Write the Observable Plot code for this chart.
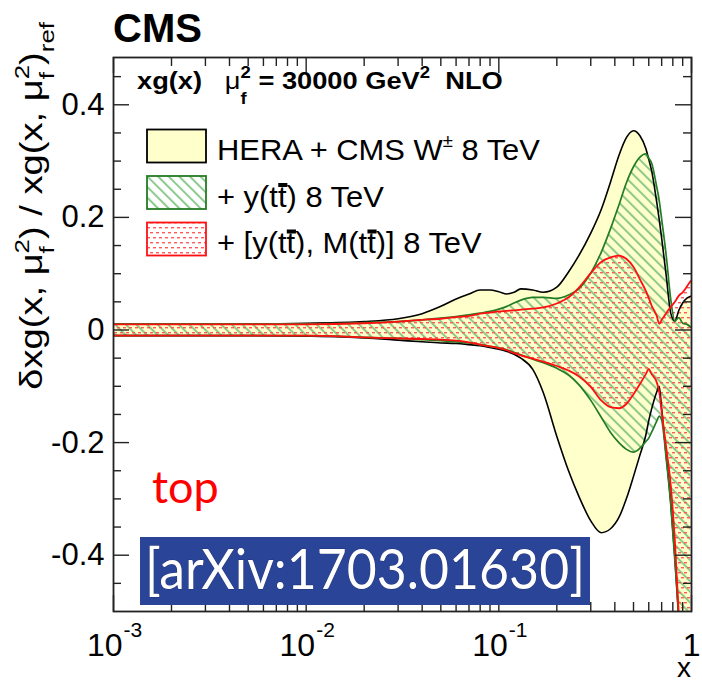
<!DOCTYPE html>
<html>
<head>
<meta charset="utf-8">
<script src="https://cdn.jsdelivr.net/npm/d3@7"></script>
<script src="https://cdn.jsdelivr.net/npm/@observablehq/plot@0.6"></script>
<style>
  html, body { margin: 0; padding: 0; background: #fff; }
  #chart svg { display: block; }
</style>
</head>
<body>
<div id="chart"></div>
<script>
// ---------------- data ----------------
const xGrid    = [0.001,0.002,0.005,0.01,0.02,0.03,0.04,0.05,0.06,0.07,0.08,0.09,0.1,0.11,0.12,0.13,0.15,0.17,0.2,0.23,0.26,0.3,0.34,0.38,0.42,0.46,0.5,0.54,0.58,0.6,0.62,0.66,0.68,0.7,0.74,0.78,0.82,0.86,0.9,0.95,0.99];
// HERA + CMS W 8 TeV (yellow band, black lines)
const yellowHi = [0.011,0.011,0.011,0.012,0.015,0.020,0.029,0.042,0.055,0.064,0.071,0.071,0.068,0.064,0.067,0.073,0.071,0.067,0.076,0.103,0.132,0.172,0.214,0.263,0.310,0.342,0.354,0.345,0.322,0.303,0.284,0.227,0.196,0.163,0.095,0.030,0.016,0.035,0.048,0.057,0.060];
const yellowLo = [-0.010,-0.010,-0.010,-0.011,-0.014,-0.018,-0.021,-0.023,-0.024,-0.026,-0.028,-0.031,-0.034,-0.038,-0.043,-0.050,-0.070,-0.111,-0.189,-0.250,-0.295,-0.339,-0.360,-0.353,-0.333,-0.299,-0.260,-0.222,-0.186,-0.161,-0.141,-0.110,-0.100,-0.140,-0.225,-0.305,-0.405,-0.515,-0.650,-0.800,-0.950];
// + y(tt) 8 TeV (green hatched band)
const greenHi  = [0.011,0.011,0.011,0.011,0.013,0.015,0.018,0.021,0.024,0.027,0.030,0.033,0.037,0.042,0.048,0.053,0.058,0.058,0.056,0.062,0.073,0.101,0.138,0.180,0.222,0.262,0.290,0.307,0.313,0.305,0.297,0.254,0.230,0.197,0.131,0.055,0.016,0.022,0.012,0.010,0.005];
const greenLo  = [-0.010,-0.010,-0.010,-0.010,-0.013,-0.015,-0.017,-0.019,-0.021,-0.023,-0.026,-0.029,-0.032,-0.035,-0.040,-0.044,-0.052,-0.058,-0.068,-0.080,-0.097,-0.125,-0.155,-0.182,-0.200,-0.212,-0.217,-0.210,-0.198,-0.192,-0.182,-0.162,-0.153,-0.160,-0.230,-0.310,-0.410,-0.520,-0.660,-0.810,-0.960];
// + [y(tt), M(tt)] 8 TeV (red dotted band)
const redHi    = [0.010,0.010,0.010,0.010,0.012,0.015,0.018,0.020,0.023,0.025,0.029,0.031,0.033,0.034,0.035,0.036,0.038,0.040,0.047,0.058,0.075,0.101,0.121,0.129,0.132,0.126,0.112,0.090,0.069,0.057,0.044,0.025,0.011,0.018,0.030,0.041,0.050,0.061,0.067,0.078,0.087];
const redLo    = [-0.010,-0.010,-0.010,-0.010,-0.013,-0.015,-0.016,-0.017,-0.019,-0.022,-0.026,-0.029,-0.032,-0.036,-0.041,-0.045,-0.051,-0.056,-0.064,-0.072,-0.082,-0.101,-0.125,-0.137,-0.139,-0.131,-0.114,-0.096,-0.078,-0.069,-0.078,-0.093,-0.110,-0.145,-0.210,-0.275,-0.375,-0.510,-0.650,-0.800,-0.950];

// axes
const yMajor       = [-0.4, -0.2, 0, 0.2, 0.4];
const yTickLabels  = ["-0.4", "-0.2", "0", "0.2", "0.4"];
const yMinor       = [-0.45,-0.35,-0.3,-0.25,-0.15,-0.1,-0.05,0.05,0.1,0.15,0.25,0.3,0.35,0.45];
const xMajor       = [0.001, 0.01, 0.1, 1];
const xTickBase    = ["10", "10", "10", "1"];
const xTickExp     = ["-3", "-2", "-1", ""];
const xMinor       = [0.002,0.003,0.004,0.005,0.006,0.007,0.008,0.009,0.02,0.03,0.04,0.05,0.06,0.07,0.08,0.09,0.2,0.3,0.4,0.5,0.6,0.7,0.8,0.9];

// texts
const titleText   = "CMS";
const legendNames = ["HERA + CMS W\u00B1 8 TeV", "+ y(tt\u0304) 8 TeV", "+ [y(tt\u0304), M(tt\u0304)] 8 TeV"];
const noteText    = "top";
const badgeText   = "[arXiv:1703.01630]";

// ---------------- layout ----------------
const FONT = "'Liberation Sans', Arial, Helvetica, sans-serif";
const W = 702, H = 685, ML = 113, MR = 11, MT = 57, MB = 74;
const FW = W - ML - MR, FH = H - MT - MB;
const curve = "monotone-x";

const rows = xGrid.map((x, i) => ({
  x, yLo: yellowLo[i], yHi: yellowHi[i], gLo: greenLo[i], gHi: greenHi[i], rLo: redLo[i], rHi: redHi[i]
}));

const BLACK = "#000", GREEN = "#247c24", RED = "#ff1010";

const plot = Plot.plot({
  width: W, height: H,
  marginLeft: ML, marginRight: MR, marginTop: MT, marginBottom: MB,
  style: {fontFamily: FONT, background: "#fff", color: "#000"},
  x: {type: "log", domain: [0.001, 1], axis: null},
  y: {domain: [-0.5, 0.484], axis: null},
  marks: [
    Plot.areaY(rows, {x: "x", y1: "yLo", y2: "yHi", fill: "#ffffcc", curve, clip: true}),
    Plot.areaY(rows, {x: "x", y1: "gLo", y2: "gHi", fill: "url(#hatchG)", curve, clip: true}),
    Plot.areaY(rows, {x: "x", y1: "rLo", y2: "rHi", fill: "url(#dotsR)", curve, clip: true}),
    Plot.lineY(rows, {x: "x", y: "yHi", stroke: BLACK, strokeWidth: 1.6, curve, clip: true}),
    Plot.lineY(rows, {x: "x", y: "yLo", stroke: BLACK, strokeWidth: 1.6, curve, clip: true}),
    Plot.lineY(rows, {x: "x", y: "gHi", stroke: GREEN, strokeWidth: 1.7, curve, clip: true}),
    Plot.lineY(rows, {x: "x", y: "gLo", stroke: GREEN, strokeWidth: 1.7, curve, clip: true}),
    Plot.lineY(rows, {x: "x", y: "rHi", stroke: RED, strokeWidth: 1.8, curve, clip: true}),
    Plot.lineY(rows, {x: "x", y: "rLo", stroke: RED, strokeWidth: 1.8, curve, clip: true}),
    // inward ticks (ROOT style) on all four sides
    Plot.ruleY(yMajor, {y: d => d, insetRight: FW - 16, stroke: "#222", strokeWidth: 1.4}),
    Plot.ruleY(yMinor, {y: d => d, insetRight: FW - 8, stroke: "#222", strokeWidth: 1.4}),
    Plot.ruleY(yMajor, {y: d => d, insetLeft: FW - 16, stroke: "#222", strokeWidth: 1.4}),
    Plot.ruleY(yMinor, {y: d => d, insetLeft: FW - 8, stroke: "#222", strokeWidth: 1.4}),
    Plot.ruleX(xMajor, {x: d => d, insetTop: FH - 16, stroke: "#222", strokeWidth: 1.4}),
    Plot.ruleX(xMinor, {x: d => d, insetTop: FH - 9, stroke: "#222", strokeWidth: 1.4}),
    Plot.ruleX(xMajor, {x: d => d, insetBottom: FH - 16, stroke: "#222", strokeWidth: 1.4}),
    Plot.ruleX(xMinor, {x: d => d, insetBottom: FH - 9, stroke: "#222", strokeWidth: 1.4}),
    Plot.frame({stroke: "#222", strokeWidth: 1.8}),
    // tick labels
    Plot.text(yMajor, {y: d => d, text: (d, i) => yTickLabels[i], frameAnchor: "left", dx: -9,
      textAnchor: "end", lineAnchor: "middle", fontSize: 31, fill: "#000"}),
    Plot.text(xMajor, {x: d => d, text: (d, i) => xTickBase[i], frameAnchor: "bottom", dx: 9, dy: 44,
      textAnchor: "end", lineAnchor: "bottom", fontSize: 32, fill: "#000"}),
    Plot.text(xMajor, {x: d => d, text: (d, i) => xTickExp[i], frameAnchor: "bottom", dx: 10, dy: 25,
      textAnchor: "start", lineAnchor: "bottom", fontSize: 21, fill: "#000"})
  ]
});
document.getElementById("chart").appendChild(plot);

// ---------------- patterns ----------------
const svg = d3.select(plot);
const defs = svg.insert("defs", ":first-child");
const hp = defs.append("pattern").attr("id", "hatchG").attr("patternUnits", "userSpaceOnUse")
  .attr("width", 7.5).attr("height", 7.5).attr("patternTransform", "rotate(-45)");
hp.append("line").attr("x1", 2).attr("x2", 2).attr("y1", -1).attr("y2", 9)
  .attr("stroke", "#86c686").attr("stroke-width", 1.9);
const dp = defs.append("pattern").attr("id", "dotsR").attr("patternUnits", "userSpaceOnUse")
  .attr("width", 6).attr("height", 10);
dp.append("rect").attr("x", 0).attr("y", 2).attr("width", 3).attr("height", 1.4).attr("fill", "#ff5a5a");
dp.append("rect").attr("x", 3).attr("y", 7).attr("width", 3).attr("height", 1.4).attr("fill", "#ff5a5a");

// ---------------- rich text helper ----------------
function rich(parent, parts, o) {
  const size = o.size, small = size * (o.smallRatio || 0.68);
  const t = parent.append("text")
    .attr("x", 0).attr("y", 0)
    .attr("font-family", o.family || FONT)
    .attr("font-size", size)
    .attr("font-weight", o.weight || "normal")
    .attr("fill", o.fill || "#000")
    .attr("text-anchor", o.anchor || "start")
    .style("white-space", "pre");
  const shifts = {n: 0, sup: -(o.supShift || 0.42) * size, sub: (o.subShift || 0.28) * size};
  let cur = 0, pend = 0;
  const bars = [];
  function add(str, mode, dxExtra, weight) {
    const ts = t.append("tspan").text(str).attr("font-size", mode === "n" ? size : small);
    if (weight) ts.attr("font-weight", weight);
    const dy = shifts[mode] - cur;
    if (dy) ts.attr("dy", dy);
    cur = shifts[mode];
    const dx = (dxExtra || 0) + pend; pend = 0;
    if (dx) ts.attr("dx", dx);
    return ts;
  }
  for (const p of parts) {
    if (p.stack) {
      const a = add(p.stack[0], "sup");
      const wa = a.node().getComputedTextLength();
      const b = add(p.stack[1], "sub", -wa);
      const wb = b.node().getComputedTextLength();
      pend = Math.max(0, wa - wb);
    } else {
      const ts = add(p.t, p.m || "n", 0, p.w);
      if (p.bar) bars.push(ts);
    }
  }
  return {t, bars};
}

const ann = svg.append("g").attr("text-anchor", "start");

// title
ann.append("text").attr("x", 113).attr("y", 42).attr("font-family", FONT).attr("font-size", 40)
  .attr("text-anchor", "start").attr("font-weight", "bold").text(titleText);

// header inside frame
const hg = ann.append("g").attr("transform", "translate(137,89) scale(1.16,1)");
rich(hg, [{t: "xg(x)   "}, {t: "\u03BC", w: "normal"}, {stack: ["2", "f"]}, {t: " = 30000 GeV"}, {t: "2", m: "sup"}, {t: "  NLO"}],
  {size: 23.5, weight: "bold", subShift: 0.62, supShift: 0.45});

// y title
const yt = ann.append("g").attr("transform", "translate(42,22) rotate(-90) scale(1.23,1)");
rich(yt, [{t: "\u03B4xg(x, \u03BC"}, {stack: ["2", "f"]}, {t: ") / xg(x, \u03BC"}, {stack: ["2", "f"]}, {t: ")"}, {t: "ref", m: "sub"}],
  {size: 31, anchor: "end", subShift: 0.4});

// x title
ann.append("text").attr("x", 684).attr("y", 677).attr("font-family", FONT).attr("font-size", 28)
  .attr("text-anchor", "middle").text("x");

// legend
const legendFill   = ["#ffffcc", "url(#hatchG)", "url(#dotsR)"];
const legendStroke = ["#000", GREEN, RED];
const legendParts = [
  [{t: "HERA + CMS W"}, {t: "\u00B1", m: "sup"}, {t: " 8 TeV"}],
  [{t: "+ y(t"}, {t: "t", bar: true}, {t: ") 8 TeV"}],
  [{t: "+ [y(t"}, {t: "t", bar: true}, {t: "), M(t"}, {t: "t", bar: true}, {t: ")] 8 TeV"}]
];
const LEG_X = 147, LEG_Y0 = 129.5, LEG_DY = 46.5, LEG_W = 59, LEG_H = 33, LEG_FS = 30;
legendNames.forEach((name, i) => {
  const y0 = LEG_Y0 + i * LEG_DY;
  ann.append("rect").attr("x", LEG_X).attr("y", y0).attr("width", LEG_W).attr("height", LEG_H)
    .attr("fill", "#fff");
  ann.append("rect").attr("x", LEG_X).attr("y", y0).attr("width", LEG_W).attr("height", LEG_H)
    .attr("fill", legendFill[i]).attr("stroke", legendStroke[i]).attr("stroke-width", 1.8);
  const base = y0 + 30.5;
  const lg = ann.append("g").attr("transform", `translate(${LEG_X + 70},${base}) scale(1.03,1)`);
  const r = rich(lg, legendParts[i], {size: LEG_FS, smallRatio: 0.6});
  r.t.attr("aria-label", name);
  r.bars.forEach(ts => {
    const bb = ts.node().getBBox();
    lg.append("rect").attr("x", bb.x + 0.3).attr("y", -23.5).attr("width", bb.width).attr("height", 4).attr("fill", "#000");
  });
});

// "top" note
ann.append("text").attr("x", 152).attr("y", 503).attr("font-family", "Lato, 'Open Sans', sans-serif")
  .attr("text-anchor", "start").attr("font-size", 45).attr("fill", "#ff0000").text(noteText);

// arXiv badge
ann.append("rect").attr("x", 140).attr("y", 537).attr("width", 450).attr("height", 68).attr("fill", "#2a4598");
ann.append("text").attr("x", 145).attr("y", 589).attr("font-family", "Lato, 'Open Sans', sans-serif")
  .attr("text-anchor", "start")
  .attr("font-size", 56).attr("fill", "#fff").attr("textLength", 440).attr("lengthAdjust", "spacingAndGlyphs")
  .attr("stroke", "#15225a").attr("stroke-width", 0.6).style("paint-order", "stroke")
  .text(badgeText);
</script>
</body>
</html>
